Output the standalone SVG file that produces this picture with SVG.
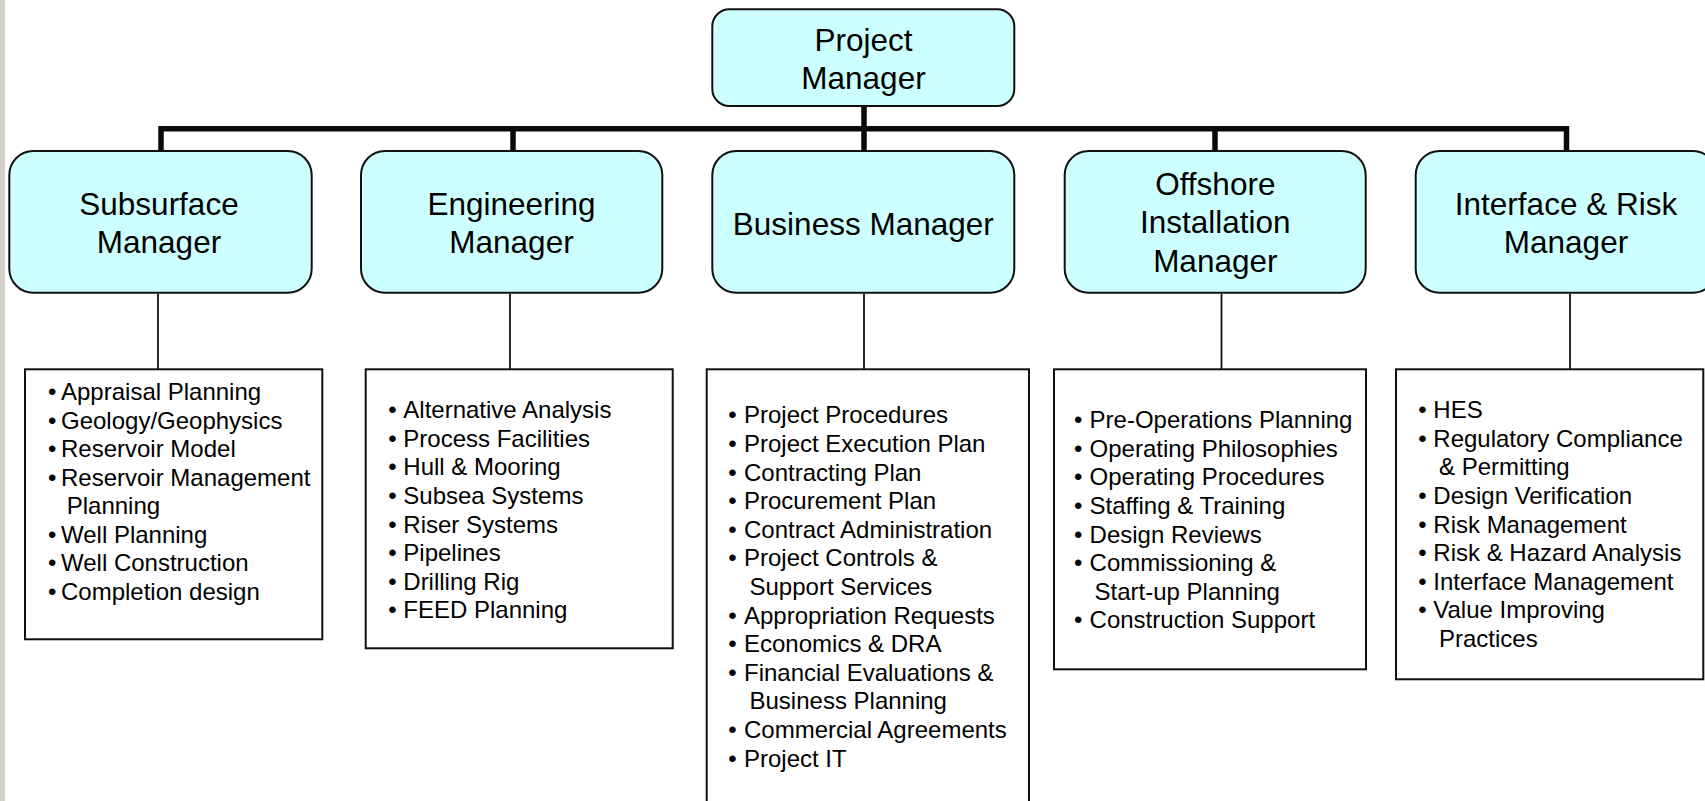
<svg xmlns="http://www.w3.org/2000/svg" width="1705" height="801" viewBox="0 0 1705 801">
  <style>
    .mgr { fill: #CCFFFF; stroke: #111; stroke-width: 2; }
    .list { fill: #FFFFFF; stroke: #111; stroke-width: 2; }
    .title { font-family: "Liberation Sans", Arial, sans-serif; font-size: 31.5px; fill: #000; text-anchor: middle; }
    .item { font-family: "Liberation Sans", Arial, sans-serif; font-size: 24px; fill: #000; }
    .bus { fill: none; stroke: #0A0A0A; stroke-width: 5.5; stroke-linejoin: miter; stroke-linecap: butt; }
    .thin { fill: none; stroke: #111; stroke-width: 1.8; }
  </style>

  <rect x="0" y="0" width="1705" height="801" fill="#FFFFFF"/>
  <rect x="0" y="0" width="5" height="801" fill="#D4D0C8"/>

  <!-- connectors -->
  <g id="connectors">
    <path class="bus" d="M161 151 V128.7 H1566.5 V151"/>
    <path class="bus" d="M513 128.7 V151"/>
    <path class="bus" d="M864 106 V151"/>
    <path class="bus" d="M1215 128.7 V151"/>
    <path class="thin" d="M158 294 V369"/>
    <path class="thin" d="M510 294 V369"/>
    <path class="thin" d="M864 294 V369"/>
    <path class="thin" d="M1221.5 294 V369"/>
    <path class="thin" d="M1570 294 V369"/>
  </g>

  <!-- top of the chart -->
  <g id="project-manager">
    <rect class="mgr" x="712.3" y="9.3" width="302" height="96.7" rx="17" ry="17"/>
    <text class="title" x="863.5" y="50.7">Project</text>
    <text class="title" x="863.5" y="88.5">Manager</text>
  </g>

  <!-- second level managers -->
  <g id="subsurface-manager">
    <rect class="mgr" x="9.3" y="151" width="302.4" height="141.7" rx="24" ry="24"/>
    <text class="title" x="159" y="215">Subsurface</text>
    <text class="title" x="159" y="253.3">Manager</text>
  </g>
  <g id="engineering-manager">
    <rect class="mgr" x="361" y="151" width="301.3" height="141.7" rx="24" ry="24"/>
    <text class="title" x="511.5" y="215">Engineering</text>
    <text class="title" x="511.5" y="253.3">Manager</text>
  </g>
  <g id="business-manager">
    <rect class="mgr" x="712.3" y="151" width="302" height="141.7" rx="24" ry="24"/>
    <text class="title" x="863.3" y="234.5">Business Manager</text>
  </g>
  <g id="offshore-installation-manager">
    <rect class="mgr" x="1064.7" y="151" width="301" height="141.7" rx="24" ry="24"/>
    <text class="title" x="1215.3" y="195">Offshore</text>
    <text class="title" x="1215.3" y="233.3">Installation</text>
    <text class="title" x="1215.3" y="271.6">Manager</text>
  </g>
  <g id="interface-risk-manager">
    <rect class="mgr" x="1415.7" y="151" width="301" height="141.7" rx="24" ry="24"/>
    <text class="title" x="1566" y="215">Interface &amp; Risk</text>
    <text class="title" x="1566" y="253.3">Manager</text>
  </g>

  <!-- responsibility lists -->
  <g id="subsurface-list">
    <rect class="list" x="25" y="369.3" width="297.3" height="270"/>
    <text class="item">
      <tspan x="48" y="400">•</tspan><tspan x="61" y="400">Appraisal Planning</tspan>
      <tspan x="48" y="428.6">•</tspan><tspan x="61" y="428.6">Geology/Geophysics</tspan>
      <tspan x="48" y="457.1">•</tspan><tspan x="61" y="457.1">Reservoir Model</tspan>
      <tspan x="48" y="485.7">•</tspan><tspan x="61" y="485.7">Reservoir Management</tspan>
      <tspan x="66.7" y="514.3">Planning</tspan>
      <tspan x="48" y="542.9">•</tspan><tspan x="61" y="542.9">Well Planning</tspan>
      <tspan x="48" y="571.4">•</tspan><tspan x="61" y="571.4">Well Construction</tspan>
      <tspan x="48" y="600">•</tspan><tspan x="61" y="600">Completion design</tspan>
    </text>
  </g>

  <g id="engineering-list">
    <rect class="list" x="365.7" y="369.3" width="307" height="279"/>
    <text class="item">
      <tspan x="388.3" y="418.3">•</tspan><tspan x="403.3" y="418.3">Alternative Analysis</tspan>
      <tspan x="388.3" y="446.9">•</tspan><tspan x="403.3" y="446.9">Process Facilities</tspan>
      <tspan x="388.3" y="475.4">•</tspan><tspan x="403.3" y="475.4">Hull &amp; Mooring</tspan>
      <tspan x="388.3" y="504">•</tspan><tspan x="403.3" y="504">Subsea Systems</tspan>
      <tspan x="388.3" y="532.6">•</tspan><tspan x="403.3" y="532.6">Riser Systems</tspan>
      <tspan x="388.3" y="561.2">•</tspan><tspan x="403.3" y="561.2">Pipelines</tspan>
      <tspan x="388.3" y="589.7">•</tspan><tspan x="403.3" y="589.7">Drilling Rig</tspan>
      <tspan x="388.3" y="618.3">•</tspan><tspan x="403.3" y="618.3">FEED Planning</tspan>
    </text>
  </g>

  <g id="business-list">
    <rect class="list" x="706.7" y="369.3" width="322.3" height="445"/>
    <text class="item">
      <tspan x="728.3" y="423.3">•</tspan><tspan x="744" y="423.3">Project Procedures</tspan>
      <tspan x="728.3" y="451.9">•</tspan><tspan x="744" y="451.9">Project Execution Plan</tspan>
      <tspan x="728.3" y="480.5">•</tspan><tspan x="744" y="480.5">Contracting Plan</tspan>
      <tspan x="728.3" y="509.1">•</tspan><tspan x="744" y="509.1">Procurement Plan</tspan>
      <tspan x="728.3" y="537.7">•</tspan><tspan x="744" y="537.7">Contract Administration</tspan>
      <tspan x="728.3" y="566.3">•</tspan><tspan x="744" y="566.3">Project Controls &amp;</tspan>
      <tspan x="749.5" y="594.9">Support Services</tspan>
      <tspan x="728.3" y="623.5">•</tspan><tspan x="744" y="623.5">Appropriation Requests</tspan>
      <tspan x="728.3" y="652.1">•</tspan><tspan x="744" y="652.1">Economics &amp; DRA</tspan>
      <tspan x="728.3" y="680.7">•</tspan><tspan x="744" y="680.7">Financial Evaluations &amp;</tspan>
      <tspan x="749.5" y="709.3">Business Planning</tspan>
      <tspan x="728.3" y="737.9">•</tspan><tspan x="744" y="737.9">Commercial Agreements</tspan>
      <tspan x="728.3" y="766.6">•</tspan><tspan x="744" y="766.6">Project IT</tspan>
    </text>
  </g>

  <g id="offshore-list">
    <rect class="list" x="1054" y="369.3" width="312" height="300"/>
    <text class="item">
      <tspan x="1074" y="428.3">•</tspan><tspan x="1089.6" y="428.3">Pre-Operations Planning</tspan>
      <tspan x="1074" y="456.9">•</tspan><tspan x="1089.6" y="456.9">Operating Philosophies</tspan>
      <tspan x="1074" y="485.4">•</tspan><tspan x="1089.6" y="485.4">Operating Procedures</tspan>
      <tspan x="1074" y="514">•</tspan><tspan x="1089.6" y="514">Staffing &amp; Training</tspan>
      <tspan x="1074" y="542.6">•</tspan><tspan x="1089.6" y="542.6">Design Reviews</tspan>
      <tspan x="1074" y="571.2">•</tspan><tspan x="1089.6" y="571.2">Commissioning &amp;</tspan>
      <tspan x="1094.5" y="599.7">Start-up Planning</tspan>
      <tspan x="1074" y="628.3">•</tspan><tspan x="1089.6" y="628.3">Construction Support</tspan>
    </text>
  </g>

  <g id="interface-risk-list">
    <rect class="list" x="1396" y="369.3" width="307.3" height="310"/>
    <text class="item">
      <tspan x="1418.3" y="418.3">•</tspan><tspan x="1433.3" y="418.3">HES</tspan>
      <tspan x="1418.3" y="446.9">•</tspan><tspan x="1433.3" y="446.9">Regulatory Compliance</tspan>
      <tspan x="1439" y="475.4">&amp; Permitting</tspan>
      <tspan x="1418.3" y="504">•</tspan><tspan x="1433.3" y="504">Design Verification</tspan>
      <tspan x="1418.3" y="532.5">•</tspan><tspan x="1433.3" y="532.5">Risk Management</tspan>
      <tspan x="1418.3" y="561.1">•</tspan><tspan x="1433.3" y="561.1">Risk &amp; Hazard Analysis</tspan>
      <tspan x="1418.3" y="589.6">•</tspan><tspan x="1433.3" y="589.6">Interface Management</tspan>
      <tspan x="1418.3" y="618.2">•</tspan><tspan x="1433.3" y="618.2">Value Improving</tspan>
      <tspan x="1439" y="646.7">Practices</tspan>
    </text>
  </g>
</svg>
